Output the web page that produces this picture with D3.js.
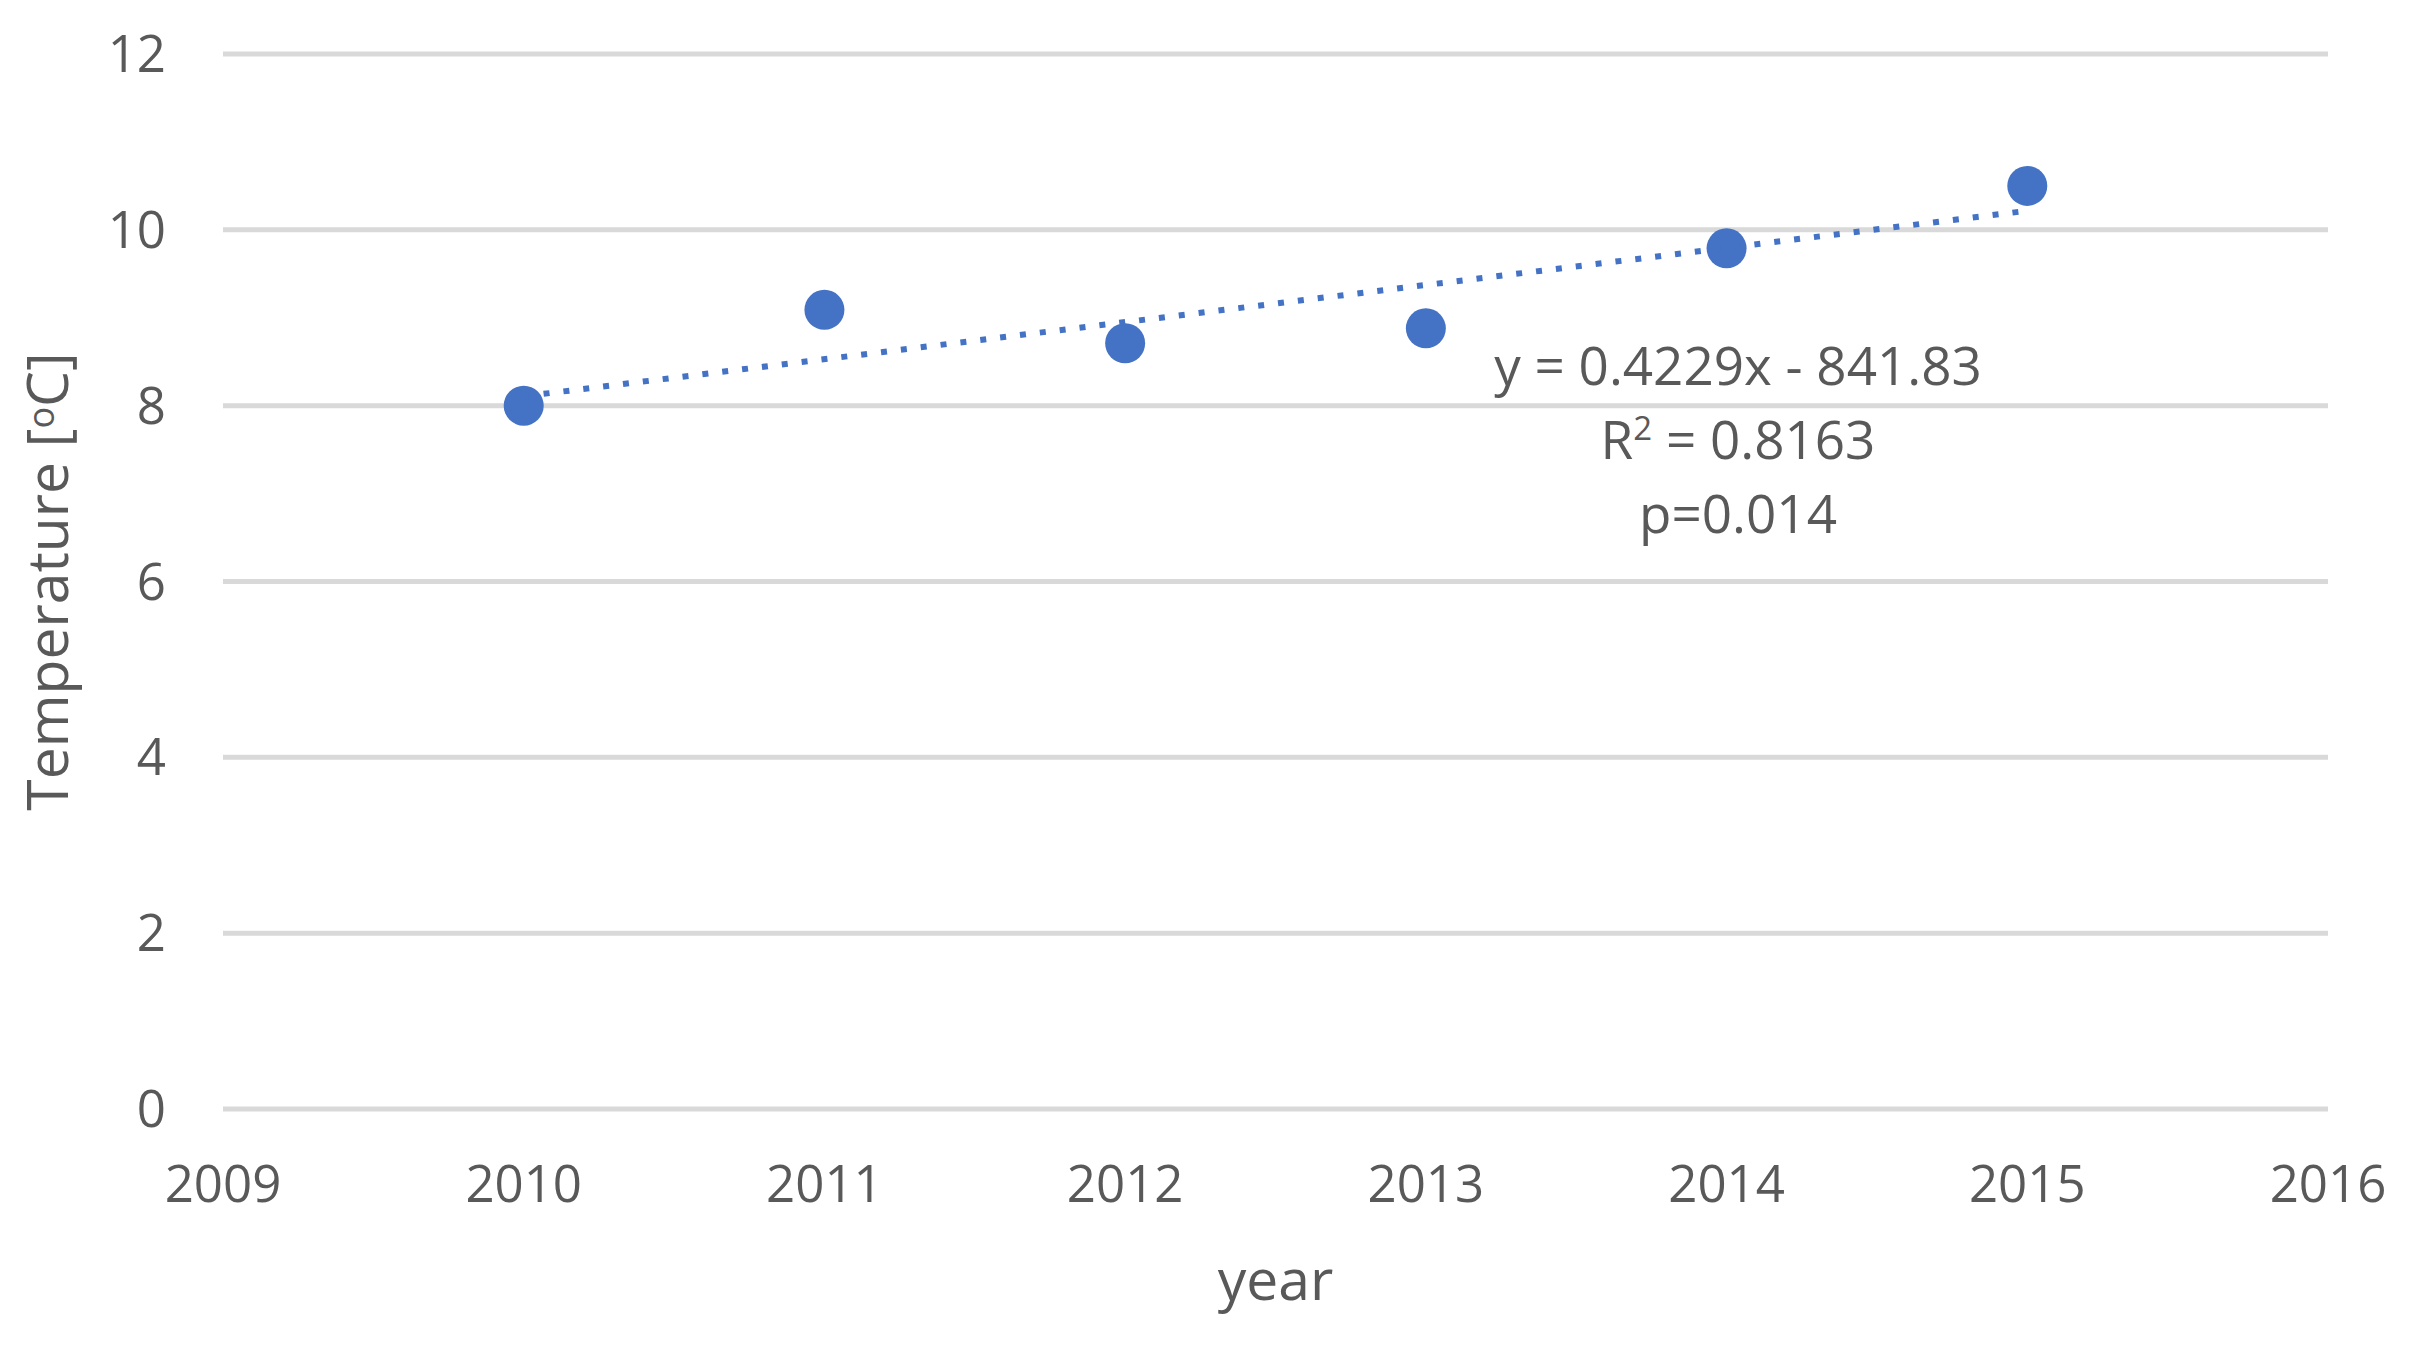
<!DOCTYPE html>
<html>
<head>
<meta charset="utf-8">
<script src="https://cdn.jsdelivr.net/npm/d3@7"></script>
<style>
  body { margin: 0; background: #fff; }
  text { font-family: "Open Sans", "Liberation Sans", sans-serif; fill: #595959; }
</style>
</head>
<body>
<div id="chart"></div>
<script>
// data
var years = [2010, 2011, 2012, 2013, 2014, 2015];
var temps = [8.0, 9.09, 8.71, 8.88, 9.79, 10.5];
var xTicks = [2009, 2010, 2011, 2012, 2013, 2014, 2015, 2016];
var yTicks = [0, 2, 4, 6, 8, 10, 12];
var eqLines = ["y = 0.4229x - 841.83", "R2 = 0.8163", "p=0.014"];

var width = 2418, height = 1355;
var margin = {top: 54, right: 90, bottom: 246, left: 223};

var svg = d3.select("#chart").append("svg")
  .attr("width", width)
  .attr("height", height);

var x = d3.scaleLinear().domain([2009, 2016]).range([margin.left, width - margin.right]);
var y = d3.scaleLinear().domain([0, 12]).range([height - margin.bottom, margin.top]);

// gridlines
svg.append("g")
  .selectAll("line")
  .data(yTicks)
  .enter().append("line")
  .attr("x1", x(2009)).attr("x2", x(2016))
  .attr("y1", function(d) { return y(d); })
  .attr("y2", function(d) { return y(d); })
  .attr("stroke", "#d9d9d9")
  .attr("stroke-width", 5);

// y tick labels
svg.append("g")
  .selectAll("text")
  .data(yTicks)
  .enter().append("text")
  .attr("x", 166)
  .attr("y", function(d) { return y(d) + 18; })
  .attr("text-anchor", "end")
  .style("font-size", "51px")
  .text(function(d) { return d; });

// x tick labels
svg.append("g")
  .selectAll("text")
  .data(xTicks)
  .enter().append("text")
  .attr("x", function(d) { return x(d); })
  .attr("y", y(0) + 93)
  .attr("text-anchor", "middle")
  .style("font-size", "51px")
  .text(function(d) { return d; });

// axis titles
svg.append("text")
  .attr("x", x(2012.5))
  .attr("y", 1300)
  .attr("text-anchor", "middle")
  .style("font-size", "57px")
  .text("year");

var yt = svg.append("text")
  .attr("transform", "translate(68," + ((y(0) + y(12)) / 2) + ") rotate(-90)")
  .attr("text-anchor", "middle")
  .style("font-size", "57px");
yt.append("tspan").text("Temperature [");
yt.append("tspan").attr("dy", -14).style("font-size", "36px").text("o");
yt.append("tspan").attr("dy", 14).text("C]");

// linear trend (least squares on the points)
var mx = d3.mean(years), my = d3.mean(temps);
var slope = d3.sum(years, function(d, i) { return (d - mx) * (temps[i] - my); }) /
            d3.sum(years, function(d) { return (d - mx) * (d - mx); });
var icpt = my - slope * mx;
var trend = [years[0], years[years.length - 1]].map(function(d) { return [d, icpt + slope * d]; });

// points
svg.append("g")
  .selectAll("circle")
  .data(years)
  .enter().append("circle")
  .attr("cx", function(d) { return x(d); })
  .attr("cy", function(d, i) { return y(temps[i]); })
  .attr("r", 20)
  .attr("fill", "#4472c4");

svg.append("path")
  .datum(trend)
  .attr("fill", "none")
  .attr("stroke", "#4472c4")
  .attr("stroke-width", 6)
  .attr("stroke-dasharray", "6 14")
  .attr("d", d3.line()
    .x(function(d) { return x(d[0]); })
    .y(function(d) { return y(d[1]); }));

// equation label
var eq = svg.append("g")
  .attr("text-anchor", "middle")
  .style("font-size", "53px");
eq.append("text").attr("x", 1738).attr("y", 385).text(eqLines[0]);
var r2 = eq.append("text").attr("x", 1738).attr("y", 459);
r2.append("tspan").text(eqLines[1].charAt(0));
r2.append("tspan").attr("dy", -19).style("font-size", "33px").text(eqLines[1].charAt(1));
r2.append("tspan").attr("dy", 19).text(eqLines[1].slice(2));
eq.append("text").attr("x", 1738).attr("y", 533).text(eqLines[2]);
</script>
</body>
</html>
